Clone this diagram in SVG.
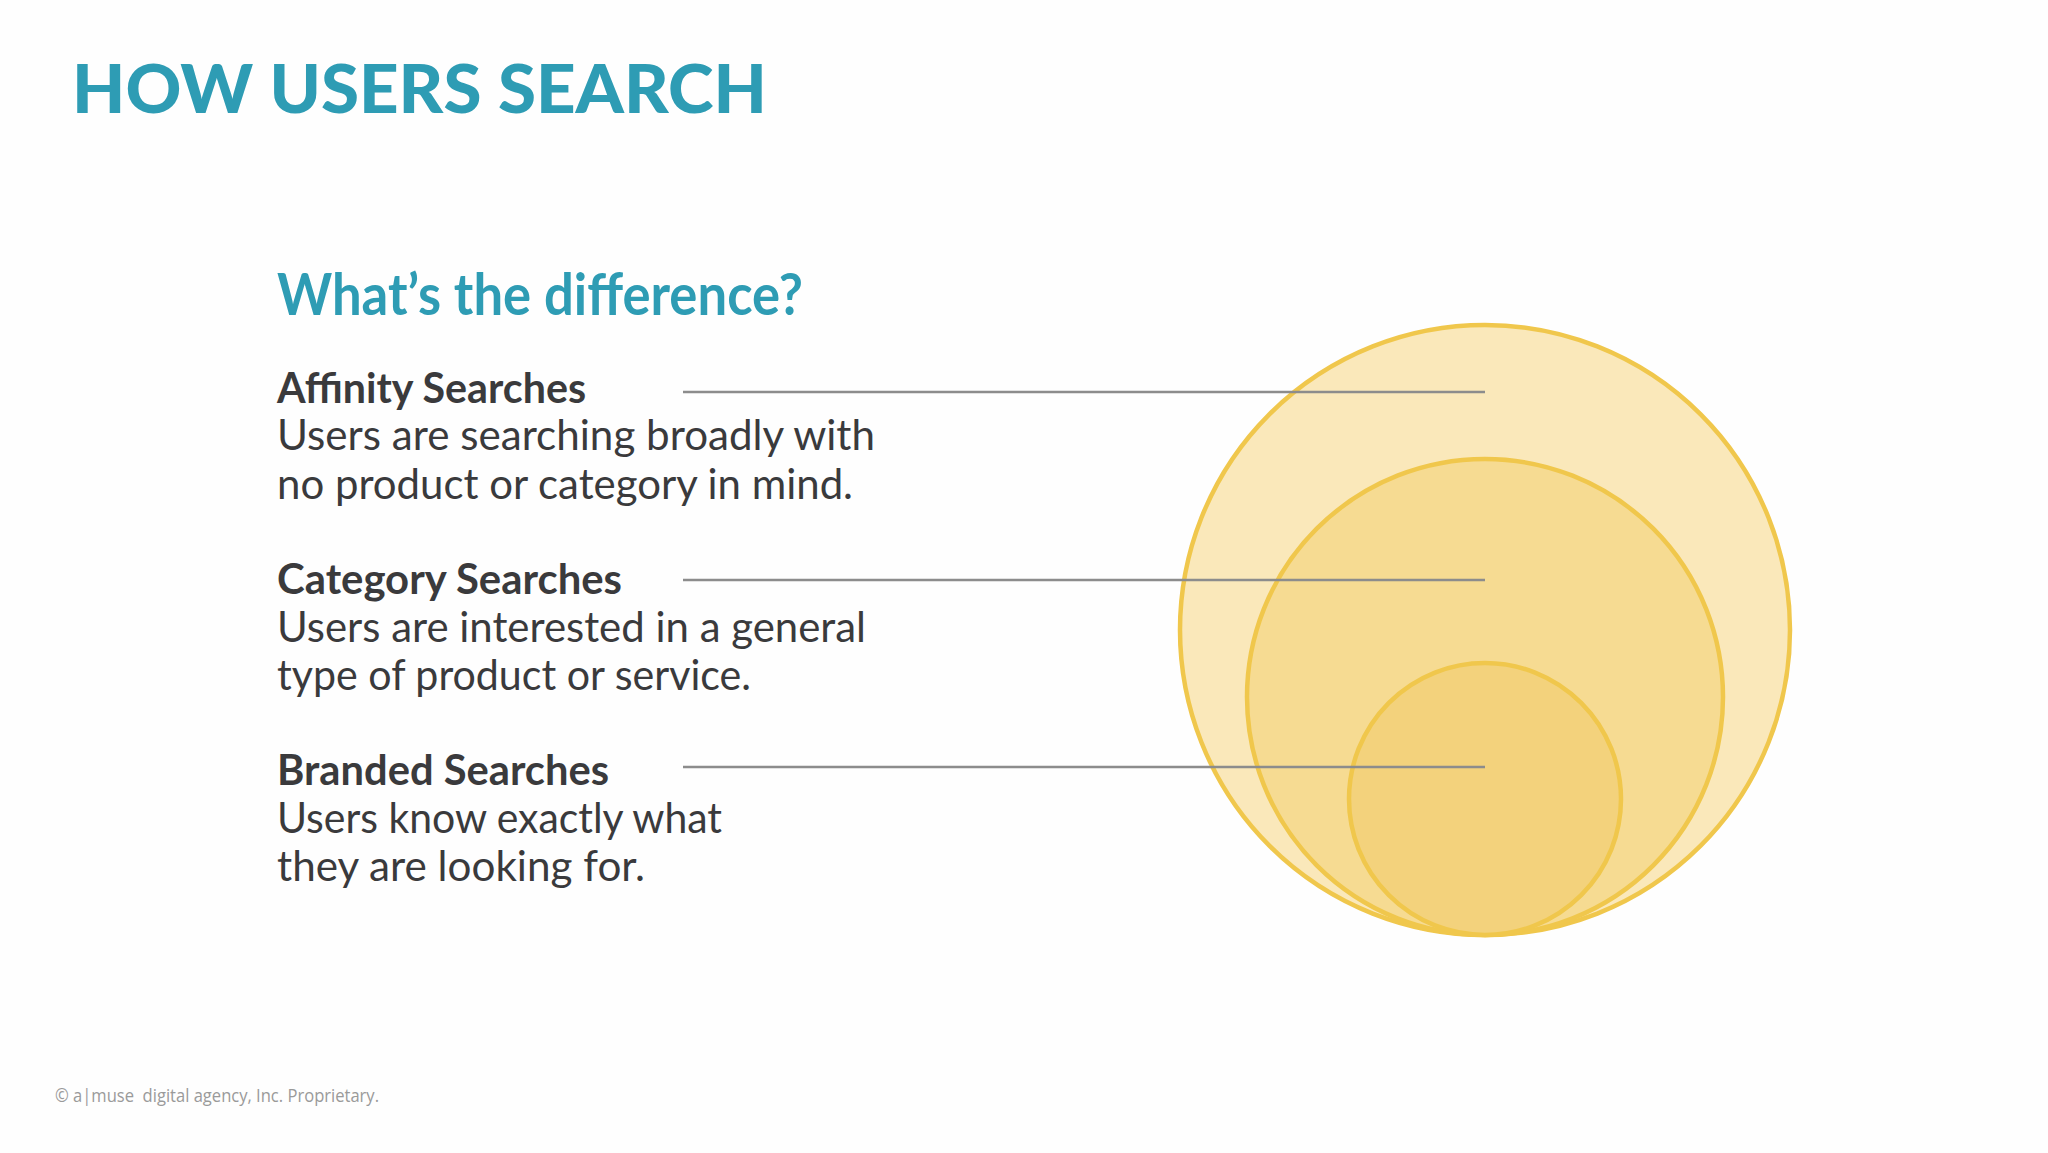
<svg xmlns="http://www.w3.org/2000/svg" width="2048" height="1153" viewBox="0 0 2048 1153">
  <style>
    .title { font-family: Lato, "Open Sans", sans-serif; font-weight: 900; fill: #2E9CB4; }
    .sub { font-family: Lato, "Open Sans", sans-serif; font-weight: 700; fill: #2E9CB4; }
    .head { font-family: Lato, "Open Sans", sans-serif; font-weight: 700; fill: #3A3A3C; font-size: 42px; }
    .body { font-family: Lato, "Open Sans", sans-serif; font-weight: 400; fill: #3A3A3C; font-size: 42px; }
    .foot { font-family: "Open Sans", sans-serif; fill: #9A9A9A; font-size: 18px; white-space: pre; }
    .ring { stroke: #F0C74C; stroke-width: 4.5; }
    .conn { stroke: #8C8C8C; stroke-width: 2.5; fill: none; }
  </style>
  <rect width="2048" height="1153" fill="#FEFEFE"/>

  <g id="title">
    <text class="title" x="72" y="113" font-size="67" textLength="695" lengthAdjust="spacingAndGlyphs">HOW USERS SEARCH</text>
  </g>
  <g id="subtitle">
    <text class="sub" x="277" y="315" font-size="58" textLength="526" lengthAdjust="spacingAndGlyphs">What’s the difference?</text>
  </g>

  <g id="circles">
    <circle id="circle-affinity" class="ring" cx="1485" cy="630" r="305" fill="#FAE8BA"/>
    <circle id="circle-category" class="ring" cx="1485" cy="697" r="238" fill="#F6DB92"/>
    <circle id="circle-branded" class="ring" cx="1485" cy="799" r="136" fill="#F3D27C"/>
  </g>

  <g id="affinity">
    <text class="head" x="277" y="403" textLength="309" lengthAdjust="spacingAndGlyphs">Affinity Searches</text>
    <text class="body" x="277" y="450" textLength="598" lengthAdjust="spacingAndGlyphs">Users are searching broadly with</text>
    <text class="body" x="277" y="499" textLength="576" lengthAdjust="spacingAndGlyphs">no product or category in mind.</text>
  </g>
  <g id="category">
    <text class="head" x="277" y="594" textLength="345" lengthAdjust="spacingAndGlyphs">Category Searches</text>
    <text class="body" x="277" y="642" textLength="589" lengthAdjust="spacingAndGlyphs">Users are interested in a general</text>
    <text class="body" x="277" y="690" textLength="474" lengthAdjust="spacingAndGlyphs">type of product or service.</text>
  </g>
  <g id="branded">
    <text class="head" x="277" y="785" textLength="332" lengthAdjust="spacingAndGlyphs">Branded Searches</text>
    <text class="body" x="277" y="833" textLength="445" lengthAdjust="spacingAndGlyphs">Users know exactly what</text>
    <text class="body" x="277" y="881" textLength="368" lengthAdjust="spacingAndGlyphs">they are looking for.</text>
  </g>

  <g id="connectors">
    <line class="conn" x1="683" y1="392" x2="1485" y2="392"/>
    <line class="conn" x1="683" y1="580" x2="1485" y2="580"/>
    <line class="conn" x1="683" y1="767" x2="1485" y2="767"/>
  </g>

  <g id="footer">
    <text class="foot" x="55" y="1102" textLength="324" lengthAdjust="spacingAndGlyphs" xml:space="preserve">© a|muse  digital agency, Inc. Proprietary.</text>
  </g>
</svg>
